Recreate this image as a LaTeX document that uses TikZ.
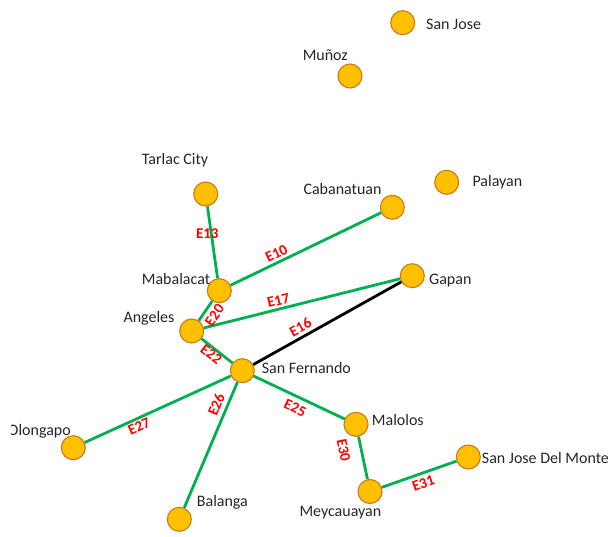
\documentclass[tikz,border=0pt]{standalone}
\usepackage{fontspec}
\setmainfont{Carlito}
\definecolor{cityfill}{RGB}{255,192,0}
\definecolor{cityedge}{RGB}{205,120,30}
\definecolor{roadgreen}{RGB}{0,176,80}
\definecolor{textgray}{RGB}{38,38,38}
\definecolor{labred}{RGB}{255,0,0}
\begin{document}
\begin{tikzpicture}[x=1pt,y=-1pt,
  city/.style={circle, minimum size=24pt, inner sep=0pt, fill=cityfill, draw=cityedge, line width=1.1pt},
  cname/.style={font=\fontsize{16}{18}\selectfont, text=textgray, inner sep=0pt},
  road/.style={draw=roadgreen, line width=2.8pt},
  rail/.style={draw=black, line width=2.8pt},
  elab/.style={font=\fontsize{15}{17}\selectfont\bfseries, text=labred, inner sep=0pt}
]
\useasboundingbox (0,0) rectangle (612,537);
\begin{scope}
\clip (11.5,0) rectangle (607,537);
% cities
\node[city] (sanjose) at (402.7,22.7) {};
\node[city] (munoz) at (350,76) {};
\node[city] (palayan) at (446.7,182.3) {};
\node[city] (tarlac) at (205.7,194) {};
\node[city] (cabanatuan) at (392.3,207.3) {};
\node[city] (gapan) at (412.3,275.7) {};
\node[city] (mabalacat) at (219.3,290.7) {};
\node[city] (angeles) at (191.7,331) {};
\node[city] (sanfernando) at (242.3,370.7) {};
\node[city] (malolos) at (356,424.3) {};
\node[city] (sjdm) at (468.3,457) {};
\node[city] (olongapo) at (73.3,447.7) {};
\node[city] (balanga) at (179.3,519.3) {};
\node[city] (meycauayan) at (370,491.5) {};
% names
\node[cname, anchor=base west] (tsanjose) at (426,29.3) {San Jose};
\node[cname, anchor=base east] (tmunoz) at (348,61) {Muñoz};
\node[cname, anchor=base west] (ttarlac) at (141.7,165) {Tarlac City};
\node[cname, anchor=base west] (tcabanatuan) at (303.3,195) {Cabanatuan};
\node[cname, anchor=base west] (tpalayan) at (472.3,186.7) {Palayan};
\node[cname, anchor=base west] (tmabalacat) at (141.7,284) {Mabalacat};
\node[cname, anchor=base west] (tgapan) at (429,284.3) {Gapan};
\node[cname, anchor=base west] (tangeles) at (123.3,322.7) {Angeles};
\node[cname, anchor=base west] (tsanfernando) at (261.7,373.3) {San Fernando};
\node[cname, anchor=base west] (tmalolos) at (371.7,425) {Malolos};
\node[cname, anchor=base west] (tsjdm) at (481.7,463) {San Jose Del Monte};
\node[cname, anchor=base east] (tolongapo) at (71,435.7) {Olongapo};
\node[cname, anchor=base west] (tbalanga) at (196.7,506) {Balanga};
\node[cname, anchor=base west] (tmeycauayan) at (299.3,516.7) {Meycauayan};
% connectors
\draw[road] (tarlac) -- node[elab, pos=0.38, xshift=-4pt] (e13) {E13} (mabalacat);
\draw[road] (mabalacat) -- node[elab, sloped, pos=0.33, above=2.3pt] (e10) {E10} (cabanatuan);
\draw[road] (angeles) -- node[elab, sloped, pos=0.39, above=2.3pt] (e17) {E17} (gapan);
\draw[road] (angeles) -- node[elab, sloped, pos=0.57, below=3.4pt] (e20) {E20} (mabalacat);
\draw[road] (angeles) -- node[elab, sloped, pos=0.44, below=0pt] (e22) {E22} (sanfernando);
\draw[rail] (sanfernando) -- node[elab, sloped, pos=0.35, above=3pt] (e16) {E16} (gapan);
\draw[road] (olongapo) -- node[elab, sloped, pos=0.35, below=1.4pt] (e27) {E27} (sanfernando);
\draw[road] (balanga) -- node[elab, sloped, pos=0.79, above=4.2pt] (e26) {E26} (sanfernando);
\draw[road] (sanfernando) -- node[elab, sloped, pos=0.51, below=5pt] (e25) {E25} (malolos);
\draw[road] (malolos) -- node[elab, sloped, pos=0.24, below=11pt] (e30) {E30} (meycauayan);
\draw[road] (meycauayan) -- node[elab, sloped, pos=0.51, below=3.8pt] (e31) {E31} (sjdm);
\end{scope}
\end{tikzpicture}
\end{document}
